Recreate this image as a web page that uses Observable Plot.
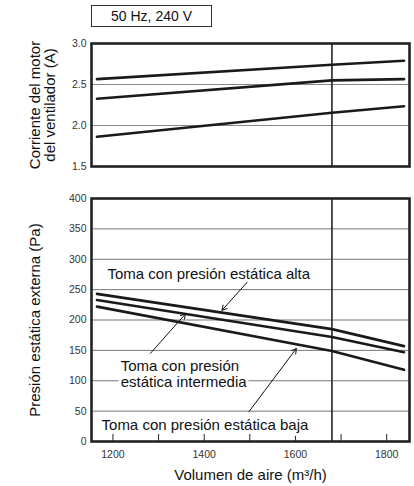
<!DOCTYPE html>
<html>
<head>
<meta charset="utf-8">
<script src="https://cdn.jsdelivr.net/npm/d3@7"></script>
<script src="https://cdn.jsdelivr.net/npm/@observablehq/plot@0.6"></script>
<style>
  html, body { margin: 0; padding: 0; background: #fff; }
  #chart { position: relative; width: 414px; height: 486px; font-family: "Liberation Sans", Arial, sans-serif; }
  #title { position: absolute; left: 91px; top: 5px; width: 119px; height: 20px; border: 1px solid #333; font-size: 14px; line-height: 20px; text-align: center; color: #111; }
  #top { position: absolute; left: 0; top: 0; }
  #bottom { position: absolute; left: 0; top: 180px; }
</style>
</head>
<body>
<div id="chart">
  <div id="top"></div>
  <div id="bottom"></div>
  <div id="title">50 Hz, 240 V</div>
</div>
<script>
// ---- data ----
const airflow = [1165, 1680, 1838];
const currentHigh = [2.565, 2.74, 2.79];
const currentMid = [2.326, 2.55, 2.565];
const currentLow = [1.862, 2.155, 2.235];
const pressureHigh = [243, 185, 157];
const pressureMid = [233, 172, 147];
const pressureLow = [222, 149, 118];
const ratedAirflow = [1680];
const xDomain = [1153, 1850];
const xTicks = [1200, 1300, 1400, 1500, 1600, 1700, 1800];
const xLabelTicks = [1200, 1400, 1600, 1800];
const currentTicks = [1.5, 2.0, 2.5, 3.0];
const pressureTicks = [0, 50, 100, 150, 200, 250, 300, 350, 400];
const currentGrid = [2.0, 2.5];
const pressureGrid = [50, 100, 150, 200, 250, 300, 350];
const annotationText = ["Toma con presión estática alta", "Toma con presión\nestática intermedia", "Toma con presión estática baja"];
const annotationX = [1188, 1217, 1175];
const annotationY = [276, 112, 28];
const arrowFromX = [1494, 1282, 1498];
const arrowFromY = [262, 145, 49];
const arrowToX = [1439, 1359, 1602];
const arrowToY = [216, 210, 153];
const yLabelTop = "Corriente del motor\ndel ventilador (A)";
const yLabelBottom = "Presión estática externa (Pa)";
const xLabel = "Volumen de aire (m³/h)";

const toSeries = (ys) => airflow.map((x, i) => ({x, y: ys[i]}));
const font = "Liberation Sans, Arial, sans-serif";

const topChart = Plot.plot({
  width: 414, height: 175,
  marginTop: 43, marginBottom: 9, marginLeft: 91, marginRight: 5,
  style: {fontFamily: font, background: "transparent"},
  x: {domain: xDomain},
  y: {domain: [1.5, 3.0]},
  marks: [
    Plot.gridY(currentGrid, {stroke: "#888", strokeOpacity: 1, strokeWidth: 1}),
    Plot.axisY(currentTicks, {tickSize: 0, tickPadding: 5, tickFormat: d3.format(".1f"), fontSize: 10.5, fill: "#333", label: null}),
    Plot.axisX({ticks: [], label: null, tickSize: 0}),
    Plot.ruleX(ratedAirflow, {stroke: "#222", strokeWidth: 1.6}),
    ...[currentHigh, currentMid, currentLow].map(s => Plot.line(toSeries(s), {x: "x", y: "y", stroke: "#1a1a1a", strokeWidth: 2.6})),
    Plot.frame({stroke: "#222", strokeWidth: 2.6}),
    Plot.text([yLabelTop], {frameAnchor: "left", dx: -49, rotate: -90, textAnchor: "middle", lineAnchor: "middle", lineHeight: 1.0, fontSize: 15, fill: "#111"})
  ]
});
document.getElementById("top").appendChild(topChart);

const annotations = annotationText.map((t, i) => ({t, x: annotationX[i], y: annotationY[i]}));
const arrows = arrowFromX.map((x1, i) => ({x1, y1: arrowFromY[i], x2: arrowToX[i], y2: arrowToY[i]}));

const bottomChart = Plot.plot({
  width: 414, height: 306,
  marginTop: 18, marginBottom: 45, marginLeft: 91, marginRight: 5,
  style: {fontFamily: font, background: "transparent"},
  x: {domain: xDomain},
  y: {domain: [0, 400]},
  marks: [
    Plot.gridY(pressureGrid, {stroke: "#777", strokeOpacity: 1, strokeWidth: 1}),
    Plot.axisY(pressureTicks, {tickSize: 0, tickPadding: 5, fontSize: 10.5, fill: "#333", label: null}),
    Plot.axisX(xLabelTicks, {tickSize: 0, tickPadding: 9, tickFormat: d => String(d), fontSize: 10.5, fill: "#333", label: null}),
    Plot.tickX(xTicks, {x: d => d, insetTop: 236, stroke: "#222", strokeWidth: 1}),
    Plot.ruleX(ratedAirflow, {stroke: "#222", strokeWidth: 1.6}),
    ...[pressureHigh, pressureMid, pressureLow].map(s => Plot.line(toSeries(s), {x: "x", y: "y", stroke: "#1a1a1a", strokeWidth: 2.6})),
    Plot.arrow(arrows, {x1: "x1", y1: "y1", x2: "x2", y2: "y2", stroke: "#111", strokeWidth: 1, headLength: 8}),
    Plot.text(annotations, {x: "x", y: "y", text: "t", textAnchor: "start", lineAnchor: "middle", lineHeight: 1.07, fontSize: 15, fill: "#111", stroke: "white", strokeWidth: 6}),
    Plot.frame({stroke: "#222", strokeWidth: 2.6}),
    Plot.text([yLabelBottom], {frameAnchor: "left", dx: -56, rotate: -90, textAnchor: "middle", lineAnchor: "middle", fontSize: 15, fill: "#111"}),
    Plot.text([xLabel], {frameAnchor: "bottom", dy: 34, textAnchor: "middle", lineAnchor: "middle", fontSize: 15, fill: "#111"})
  ]
});
document.getElementById("bottom").appendChild(bottomChart);
</script>
</body>
</html>
